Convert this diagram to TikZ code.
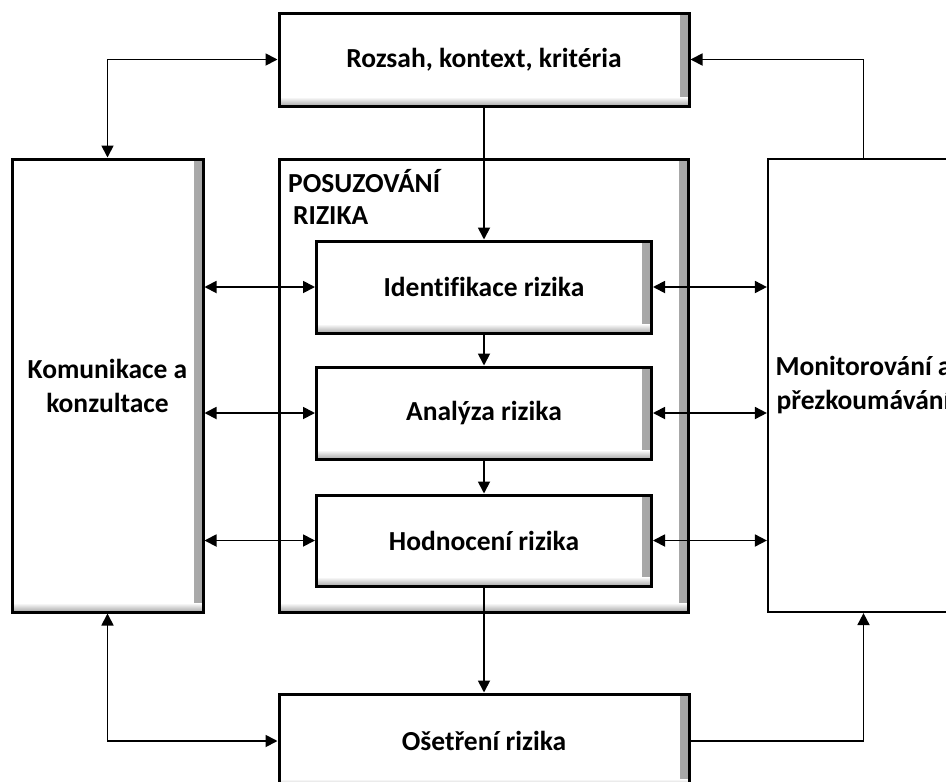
\documentclass[tikz,border=0pt]{standalone}
\usepackage{fontspec}
\setmainfont{Carlito}[Ligatures=CommonOff]
\usetikzlibrary{arrows.meta}
\begin{document}
\begin{tikzpicture}[x=1pt,y=-1pt,
  >={Triangle[length=12pt,width=12pt]},
  lbl/.style={font=\bfseries\fontsize{27.5}{34}\selectfont},
  box/.style={draw=black,line width=3pt,fill=white,inner sep=0pt,
    lbl,align=center,
    path picture={
      \shade[left color=white,right color=black!35]
        ([xshift=-9pt]path picture bounding box.north east)
        rectangle (path picture bounding box.south east);
      \shade[top color=white,bottom color=black!35]
        ([yshift=9pt]path picture bounding box.south west)
        rectangle (path picture bounding box.south east);}},
  plainbox/.style={draw=black,line width=2.2pt,fill=white,inner sep=0pt,
    lbl,align=center},
  conn/.style={line width=1.8pt,->},
  both/.style={line width=1.8pt,<->}]
\useasboundingbox (0,0) rectangle (946,782);
\clip (0,0) rectangle (946,782);

% outer boxes
\node[box,minimum width=410pt,minimum height=93pt] (top) at (484,59.5) {Rozsah, kontext, kritéria};
\node[box,minimum width=191pt,minimum height=453pt] (kom) at (107.5,385.5) {Komunikace a\\konzultace};
\node[box,minimum width=409pt,minimum height=453pt] (pos) at (484,385.5) {};
\node[plainbox,minimum width=191pt,minimum height=453pt] (mon) at (863.5,385.5) {Monitorování a\\přezkoumávání};
\node[box,minimum width=410pt,minimum height=94pt] (oset) at (484,741) {Ošetření rizika};

% assessment title
\node[anchor=base west,inner sep=0pt,lbl] (postitleA) at (288,192) {POSUZOVÁNÍ};
\node[anchor=base west,inner sep=0pt,lbl] (postitleB) at (293,224) {RIZIKA};

% assessment steps
\node[box,minimum width=335pt,minimum height=92pt] (ident) at (484,287) {Identifikace rizika};
\node[box,minimum width=335pt,minimum height=92pt] (anal) at (484,413) {Analýza rizika};
\node[box,minimum width=335pt,minimum height=91pt] (hodn) at (484,540.5) {Hodnocení rizika};

% connectors
\draw[both] (top.west) -| (kom.north);
\draw[conn] (mon.north) |- (top.east);
\draw[conn] (top.south) -- (ident.north);
\draw[conn] (ident.south) -- (anal.north);
\draw[conn] (anal.south) -- (hodn.north);
\draw[conn] (hodn.south) -- (oset.north);
\foreach \n in {ident,anal,hodn}{
  \draw[both] (kom.east |- \n.west) -- (\n.west);
  \draw[both] (\n.east) -- (mon.west |- \n.east);
}
\draw[both] (kom.south) |- (oset.west);
\draw[conn] (oset.east) -| (mon.south);
\end{tikzpicture}
\end{document}
